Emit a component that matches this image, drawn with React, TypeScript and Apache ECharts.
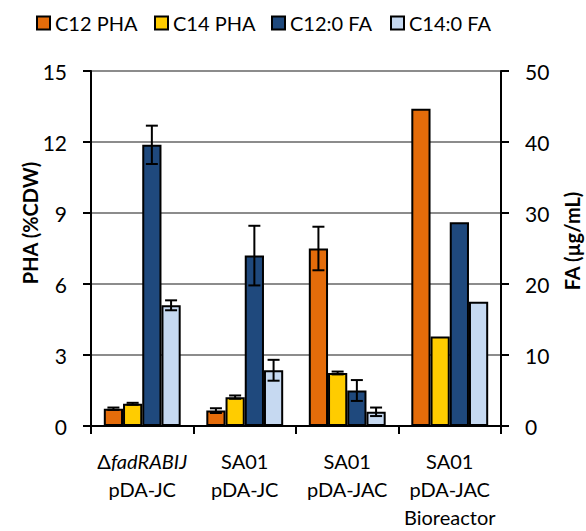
import React, { useEffect, useRef } from "react";
import * as echarts from "echarts";

const categories = ["ΔfadRABIJ\npDA-JC", "SA01\npDA-JC", "SA01\npDA-JAC", "SA01\npDA-JAC\nBioreactor"];
const seriesNames = ["C12 PHA", "C14 PHA", "C12:0 FA", "C14:0 FA"];
const seriesColors = ["#E46C0A", "#FFCC00", "#1F497D", "#C6D9F1"];
const seriesAxis = [0, 0, 1, 1];

const c12Pha = [0.73, 0.65, 7.5, 13.4];
const c14Pha = [0.94, 1.22, 2.24, 3.78];
const c12Fa = [39.6, 24.0, 5.0, 28.7];
const c14Fa = [17.0, 7.85, 2.0, 17.5];

const c12PhaErr = [0.05, 0.1, 0.92, null];
const c14PhaErr = [0.04, 0.07, 0.06, null];
const c12FaErr = [2.7, 4.2, 1.47, null];
const c14FaErr = [0.7, 1.47, 0.6, null];

const leftTicks = { min: 0, max: 15, interval: 3 };
const rightTicks = { min: 0, max: 50, interval: 10 };

const FONT = "Lato";

export default function App() {
  const ref = useRef<HTMLDivElement>(null);
  useEffect(() => {
    if (!ref.current) return;
    const chart = echarts.init(ref.current, null, { renderer: "svg" });
    const values = [c12Pha, c14Pha, c12Fa, c14Fa];
    const errs = [c12PhaErr, c14PhaErr, c12FaErr, c14FaErr];
    const legendX = [36, 154, 271, 390];

    const barSeries = seriesNames.map((name, i) => ({
      name,
      type: "bar",
      yAxisIndex: seriesAxis[i],
      data: values[i],
      barGap: "0%",
      barCategoryGap: "25%",
      itemStyle: { color: seriesColors[i], borderColor: "#000", borderWidth: 2 },
      z: 2,
    }));

    const errSeries = seriesNames.map((name, i) => ({
      name: "err" + i,
      type: "custom",
      yAxisIndex: seriesAxis[i],
      z: 5,
      data: errs[i]
        .map((e, ci) => (e == null ? null : [ci, values[i][ci], e]))
        .filter((d) => d !== null),
      encode: { x: 0, y: 1 },
      renderItem: (params: any, api: any) => {
        const ci = api.value(0);
        const v = api.value(1);
        const e = api.value(2);
        const top = api.coord([ci, v + e]);
        const bot = api.coord([ci, v - e]);
        const bw = (api.size([1, 0])[0] * 0.75) / 4;
        const x = top[0] + (i - 1.5) * bw;
        const cap = 6;
        const style = { stroke: "#000", lineWidth: 2 };
        return {
          type: "group",
          children: [
            { type: "line", shape: { x1: x, y1: top[1], x2: x, y2: bot[1] }, style },
            { type: "line", shape: { x1: x - cap, y1: top[1], x2: x + cap, y2: top[1] }, style },
            { type: "line", shape: { x1: x - cap, y1: bot[1], x2: x + cap, y2: bot[1] }, style },
          ],
        };
      },
    }));

    const option = {
      animation: false,
      textStyle: { fontFamily: FONT },
      legend: seriesNames.map((n, i) => ({
        data: [n],
        left: legendX[i],
        top: 13,
        icon: "rect",
        itemWidth: 13,
        itemHeight: 13,
        itemGap: 5,
        padding: 0,
        textStyle: { fontFamily: FONT, fontSize: 20, color: "#000" },
      })),
      grid: { left: 91, right: 85, top: 71, bottom: 104 },
      xAxis: {
        type: "category",
        data: categories,
        axisLine: { lineStyle: { color: "#000", width: 2 } },
        axisTick: { show: true, length: 8, lineStyle: { color: "#000", width: 2 } },
        axisLabel: {
          interval: 0,
          margin: 21,
          fontFamily: FONT,
          fontSize: 20,
          color: "#000",
          lineHeight: 28,
          formatter: (v: string) => {
            if (v.startsWith("Δ")) {
              const lines = v.split("\n");
              return "{n|Δ}{it|" + lines[0].slice(1) + "}\n" + lines.slice(1).join("\n");
            }
            return v;
          },
          rich: {
            n: { fontFamily: FONT, fontSize: 20, color: "#000", lineHeight: 28 },
            it: { fontFamily: FONT, fontSize: 20, color: "#000", fontStyle: "italic", lineHeight: 28 },
          },
        },
      },
      yAxis: [
        {
          type: "value",
          ...leftTicks,
          position: "left",
          axisLine: { show: true, lineStyle: { color: "#000", width: 2 } },
          axisTick: { show: true, length: 8, lineStyle: { color: "#000", width: 2 } },
          axisLabel: { margin: 24, fontFamily: FONT, fontSize: 21, color: "#000" },
          splitLine: { show: true, lineStyle: { color: "#8C8C8C", width: 2 } },
        },
        {
          type: "value",
          ...rightTicks,
          position: "right",
          axisLine: { show: true, lineStyle: { color: "#000", width: 2 } },
          axisTick: { show: true, length: 8, lineStyle: { color: "#000", width: 2 } },
          axisLabel: { margin: 24, fontFamily: FONT, fontSize: 21, color: "#000" },
          splitLine: { show: false },
        },
      ],
      graphic: [
        {
          type: "text",
          x: 30,
          y: 223,
          rotation: Math.PI / 2,
          style: {
            text: "PHA (%CDW)",
            font: "bold 20px " + FONT,
            fill: "#000",
            align: "center",
            verticalAlign: "middle",
          },
        },
        {
          type: "text",
          x: 572,
          y: 241,
          rotation: Math.PI / 2,
          style: {
            text: "FA (µg/mL)",
            font: "bold 20px " + FONT,
            fill: "#000",
            align: "center",
            verticalAlign: "middle",
          },
        },
      ],
      series: [...barSeries, ...errSeries],
    };
    chart.setOption(option as any);
    return () => chart.dispose();
  }, []);
  return <div ref={ref} style={{ width: 586, height: 531, position: "absolute", left: 0, top: 0 }} />;
}
